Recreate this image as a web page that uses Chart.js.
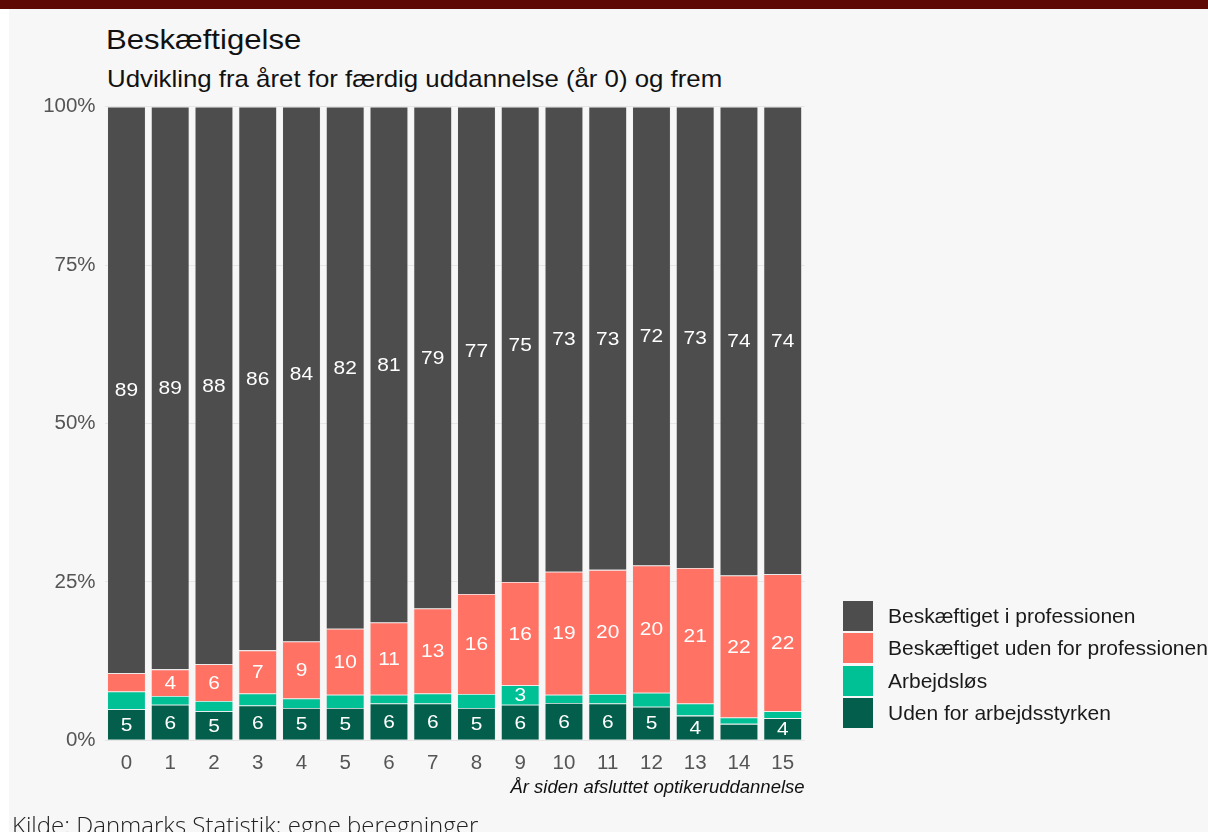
<!DOCTYPE html>
<html lang="da">
<head>
<meta charset="utf-8">
<title>Beskæftigelse</title>
<script src="https://cdn.jsdelivr.net/npm/chart.js@4.4.1/dist/chart.umd.min.js"></script>
<style>
  html, body { margin: 0; padding: 0; background: #ffffff; }
  body { width: 1208px; height: 832px; position: relative; overflow: hidden; font-family: "Liberation Sans", Arial, sans-serif; }
  #banner { position: absolute; left: 0; top: 0; width: 1208px; height: 9px; background: #5e0904; }
  #panel { position: absolute; left: 9px; top: 9px; width: 1199px; height: 823px; background: #f7f7f7; }
  #titel { position: absolute; left: 106px; top: 25.5px; font-size: 28px; line-height: 1; color: #111; white-space: nowrap; transform: scaleX(1.11); transform-origin: left top; }
  #undertitel { position: absolute; left: 107px; top: 67px; font-size: 24px; line-height: 1; color: #111; white-space: nowrap; transform: scaleX(1.075); transform-origin: left top; }
  #kilde { position: absolute; left: 12px; top: 812.5px; font-family: "Open Sans", sans-serif; font-weight: 300; font-size: 24px; line-height: 1; color: #222; white-space: nowrap; }
  #chart { position: absolute; left: 0; top: 0; }
  #legende { position: absolute; left: 843px; top: 600px; }
  .post { height: 32.3px; display: flex; align-items: center; }
  .kasse { width: 30px; height: 30px; margin-right: 15px; }
  .post span { font-size: 21px; color: #1a1a1a; white-space: nowrap; }
</style>
</head>
<body>
<div id="banner"></div>
<div id="panel"></div>
<div id="titel">Beskæftigelse</div>
<div id="undertitel">Udvikling fra året for færdig uddannelse (år 0) og frem</div>
<canvas id="chart" width="1208" height="832"></canvas>
<div id="legende"></div>
<div id="kilde">Kilde: Danmarks Statistik; egne beregninger</div>
<script>
// År siden afsluttet uddannelse
const aar = ['0', '1', '2', '3', '4', '5', '6', '7', '8', '9', '10', '11', '12', '13', '14', '15'];

// Andele i procent (nederst og op)
const udenForArbejdsstyrken = [4.9, 5.6, 4.6, 5.5, 5.1, 5.1, 5.8, 5.8, 5.1, 5.6, 5.9, 5.8, 5.3, 3.9, 2.6, 3.5];
const arbejdsloes = [2.8, 1.4, 1.6, 1.9, 1.5, 2.1, 1.4, 1.6, 2.2, 3.1, 1.3, 1.5, 2.2, 1.9, 1.0, 1.1];
const udenForProfessionen = [2.9, 4.2, 5.8, 6.8, 9.0, 10.4, 11.4, 13.4, 15.8, 16.3, 19.4, 19.6, 20.1, 21.4, 22.4, 21.6];
const iProfessionen = [89.4, 88.8, 88.0, 85.8, 84.4, 82.4, 81.4, 79.2, 76.9, 75.0, 73.4, 73.1, 72.4, 72.8, 74.0, 73.8];

const yTicks = [0, 25, 50, 75, 100];

const serier = [
    { navn: 'Uden for arbejdsstyrken', data: udenForArbejdsstyrken, farve: '#035e4b' },
    { navn: 'Arbejdsløs', data: arbejdsloes, farve: '#00c096' },
    { navn: 'Beskæftiget uden for professionen', data: udenForProfessionen, farve: '#ff7264' },
    { navn: 'Beskæftiget i professionen', data: iProfessionen, farve: '#4d4d4d' }
];

// Tal i søjlerne (kun segmenter på mindst 3 procent)
const tekstPlugin = {
    id: 'segmentTekst',
    afterDatasetsDraw(chart) {
        const ctx = chart.ctx;
        chart.data.datasets.forEach((ds, i) => {
            const meta = chart.getDatasetMeta(i);
            meta.data.forEach((bar, j) => {
                const v = ds.data[j];
                if (v < 3) return;
                ctx.save();
                ctx.font = '19px "Liberation Sans", Arial, sans-serif';
                ctx.fillStyle = '#ffffff';
                ctx.textAlign = 'center';
                ctx.textBaseline = 'middle';
                ctx.translate(bar.x, (bar.y + bar.base) / 2 + 1);
                ctx.scale(1.1, 1);
                ctx.fillText(String(Math.round(v)), 0, 0);
                ctx.restore();
            });
        });
    }
};

const ctx = document.getElementById('chart').getContext('2d');
const chart = new Chart(ctx, {
    type: 'bar',
    data: {
        labels: aar,
        datasets: serier.map(s => ({
            label: s.navn,
            data: s.data,
            backgroundColor: s.farve,
            borderColor: 'rgba(225, 225, 225, 0.3)',
            borderWidth: 0.8,
            categoryPercentage: 1,
            barPercentage: 0.88
        }))
    },
    options: {
        responsive: false,
        animation: false,
        layout: {
            padding: { left: 0, top: 106.7, right: 1208 - 804.6, bottom: 28.7 }
        },
        plugins: {
            legend: { display: false },
            tooltip: { enabled: false }
        },
        scales: {
            x: {
                stacked: true,
                grid: { display: false },
                border: { display: false },
                ticks: {
                    color: '#555555',
                    font: { family: '"Liberation Sans", Arial, sans-serif', size: 20.5 },
                    padding: 3
                },
                title: {
                    display: true,
                    text: 'År siden afsluttet optikeruddannelse',
                    align: 'end',
                    color: '#111111',
                    font: { family: '"Liberation Sans", Arial, sans-serif', size: 18.5, style: 'italic' }
                },
                afterFit(scale) { scale.height = 63; }
            },
            y: {
                stacked: true,
                min: 0,
                max: 100,
                afterBuildTicks(scale) { scale.ticks = yTicks.map(v => ({ value: v })); },
                grid: { color: '#e6e6e6', lineWidth: 1, drawTicks: false },
                border: { display: false },
                ticks: {
                    color: '#555555',
                    font: { family: '"Liberation Sans", Arial, sans-serif', size: 20.5 },
                    padding: 9,
                    callback: v => v + '%'
                },
                afterFit(scale) { scale.width = 104.6; }
            }
        }
    },
    plugins: [tekstPlugin]
});

// Forklaring, øverste serie først
const legende = document.getElementById('legende');
serier.slice().reverse().forEach(s => {
    const post = document.createElement('div');
    post.className = 'post';
    const kasse = document.createElement('div');
    kasse.className = 'kasse';
    kasse.style.background = s.farve;
    const tekst = document.createElement('span');
    tekst.textContent = s.navn;
    post.appendChild(kasse);
    post.appendChild(tekst);
    legende.appendChild(post);
});
</script>
</body>
</html>
